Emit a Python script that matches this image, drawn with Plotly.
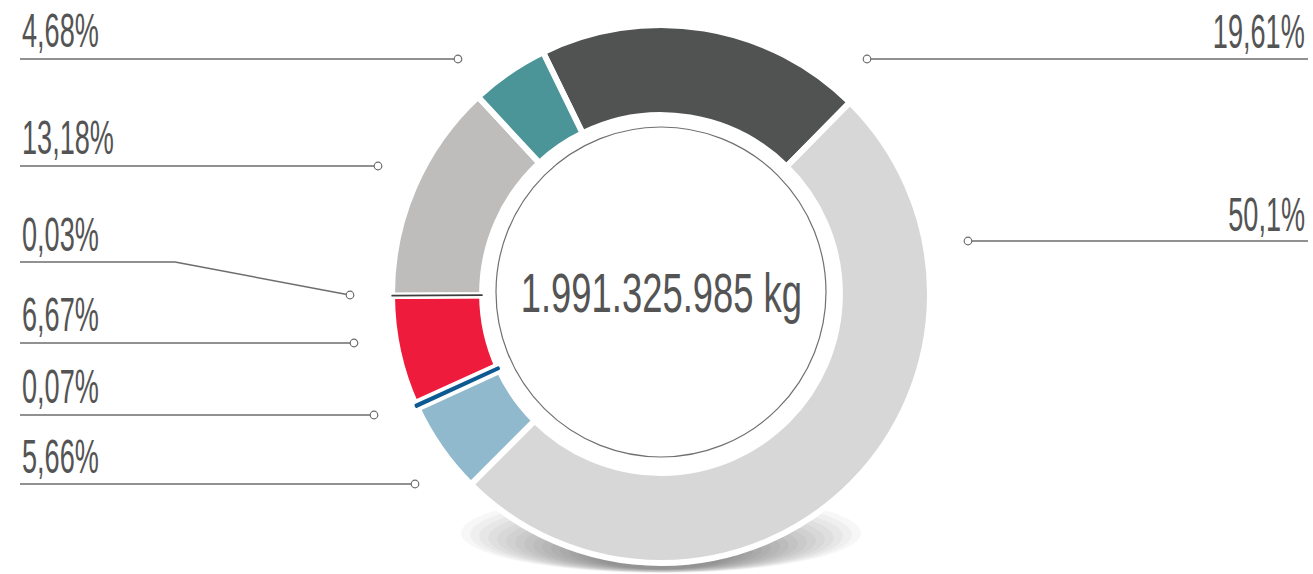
import json
import plotly.graph_objects as go

# Share of total weight per category (percent), clockwise from the top-left
categories = ["Cat. A", "Cat. B", "Cat. C", "Cat. D", "Cat. E", "Cat. F", "Cat. G", "Cat. H"]
shares = [19.61, 50.1, 5.66, 0.07, 6.67, 0.03, 13.18, 4.68]
share_labels = ["19,61%", "50,1%", "5,66%", "0,07%", "6,67%", "0,03%", "13,18%", "4,68%"]
slice_colors = ["#515352", "#d7d7d7", "#91b9cd", "#0d5a93", "#ee1b3c", "#3e3e3e", "#bebdbc", "#4b9497"]
total_label = "1.991.325.985 kg"

W, H = 1313, 574
CX, CY, R = 661, 294, 269          # donut centre and outer radius in pixels
HOLE = 0.665
FONT = "Liberation Sans, Arial, sans-serif"
TEXT_COLOR = "#545454"
LINE_COLOR = "#6d6d6d"


def fx(px):
    return px / W


def fy(py):
    return 1 - py / H


domain = dict(x=[fx(CX - R), fx(CX + R)], y=[fy(CY + R), fy(CY - R)])
tiny = [v < 0.5 for v in shares]
common = dict(values=shares, labels=categories, hole=HOLE, sort=False,
              direction="clockwise", rotation=-26, domain=domain,
              textinfo="none", hoverinfo="skip", showlegend=False)

fig = go.Figure()
# Main ring with white separators
fig.add_trace(go.Pie(marker=dict(colors=slice_colors,
                                 line=dict(color="white", width=6)), **common))
# White clearance around the hairline slices
fig.add_trace(go.Pie(marker=dict(
    colors=["white" if t else "rgba(0,0,0,0)" for t in tiny],
    line=dict(color=["white" if t else "rgba(0,0,0,0)" for t in tiny],
              width=[11 if v >= 0.05 else 5 if t else 0 for v, t in zip(shares, tiny)])),
    **common))
# Hairline slices drawn with a minimum visible thickness
fig.add_trace(go.Pie(marker=dict(
    colors=[c if t else "rgba(0,0,0,0)" for c, t in zip(slice_colors, tiny)],
    line=dict(color=[c if t else "rgba(0,0,0,0)" for c, t in zip(slice_colors, tiny)],
              width=[3.2 if v >= 0.05 else 1.3 if t else 0 for v, t in zip(shares, tiny)])),
    **common))

shapes = []
# Soft floor shadow under the ring
for k in range(16):
    rx = 200 - 9 * k
    ry = 40 - 1.8 * k
    bottom = 573 - 0.25 * k
    shapes.append(dict(type="circle", xref="paper", yref="paper", layer="below",
                       x0=fx(CX - rx), x1=fx(CX + rx),
                       y0=fy(bottom), y1=fy(bottom - 2 * ry),
                       fillcolor="rgba(0,0,0,0.03)", line=dict(width=0)))
# White disc behind the hole so the shadow stays under the ring
rh = R * HOLE
shapes.append(dict(type="circle", xref="paper", yref="paper", layer="below",
                   x0=fx(CX - rh), x1=fx(CX + rh), y0=fy(CY + rh), y1=fy(CY - rh),
                   fillcolor="white", line=dict(width=0)))
# Thin circle inside the hole
ri = 165
shapes.append(dict(type="circle", xref="paper", yref="paper",
                   x0=fx(CX - ri), x1=fx(CX + ri), y0=fy(292 + ri), y1=fy(292 - ri),
                   line=dict(color="#707070", width=1.2)))

# Leader lines: (label index, polyline points, label side, label cap-top y)
leaders = [
    (7, [(20, 59), (455, 59)], "left", 13),
    (6, [(20, 166), (375, 166)], "left", 120),
    (5, [(20, 262), (175, 262), (347, 294.5)], "left", 217),
    (4, [(20, 343), (351, 343)], "left", 297),
    (3, [(20, 415), (371, 415)], "left", 369),
    (2, [(20, 484), (412, 484)], "left", 439),
    (0, [(870, 59), (1308, 59)], "right", 14),
    (1, [(971, 241), (1308, 241)], "right", 197),
]
dots = {7: (458, 59), 6: (378, 166), 5: (350, 295), 4: (354, 343),
        3: (374, 415), 2: (415, 484), 0: (867, 59), 1: (968, 241)}

annotations = []
for idx, pts, side, top in leaders:
    for (x0, y0), (x1, y1) in zip(pts[:-1], pts[1:]):
        shapes.append(dict(type="line", xref="paper", yref="paper",
                           x0=fx(x0), y0=fy(y0), x1=fx(x1), y1=fy(y1),
                           line=dict(color=LINE_COLOR, width=1.4)))
    dx, dy = dots[idx]
    shapes.append(dict(type="circle", xref="paper", yref="paper",
                       x0=fx(dx - 3.8), x1=fx(dx + 3.8), y0=fy(dy + 3.8), y1=fy(dy - 3.8),
                       fillcolor="white", line=dict(color=LINE_COLOR, width=1.2)))
    annotations.append(dict(
        text=share_labels[idx], xref="paper", yref="paper", showarrow=False,
        x=fx(20) if side == "left" else fx(1307), xanchor=side, align=side,
        y=fy(top + 17.5), yanchor="middle",
        font=dict(family=FONT, size=48, color=TEXT_COLOR)))

annotations.append(dict(text=total_label, xref="paper", yref="paper", showarrow=False,
                        x=fx(661), y=fy(292), xanchor="center", yanchor="middle",
                        font=dict(family=FONT, size=56, color=TEXT_COLOR)))

# Horizontal squeeze per annotation to get a condensed typeface look
squeeze = [0.565] * len(leaders) + [0.65]

fig.update_layout(width=W, height=H, margin=dict(l=0, r=0, t=0, b=0),
                  paper_bgcolor="white", plot_bgcolor="white",
                  shapes=shapes, annotations=annotations, showlegend=False)

post_script = """
var gd = document.getElementById('{plot_id}');
var factors = %s;
var origins = {start: 'left', end: 'right', middle: 'center'};
function condense() {
  gd.querySelectorAll('g.annotation').forEach(function (g) {
    var i = +g.getAttribute('data-index');
    var t = g.querySelector('text.annotation-text');
    if (!t) return;
    var a = t.getAttribute('text-anchor') || 'middle';
    t.style.transformBox = 'fill-box';
    t.style.transformOrigin = (origins[a] || 'center') + ' center';
    t.style.transform = 'scaleX(' + factors[i] + ')';
  });
}
condense();
gd.on('plotly_afterplot', condense);
""" % json.dumps(squeeze)

fig.write_html("out.html", config={"displayModeBar": False}, post_script=post_script)
